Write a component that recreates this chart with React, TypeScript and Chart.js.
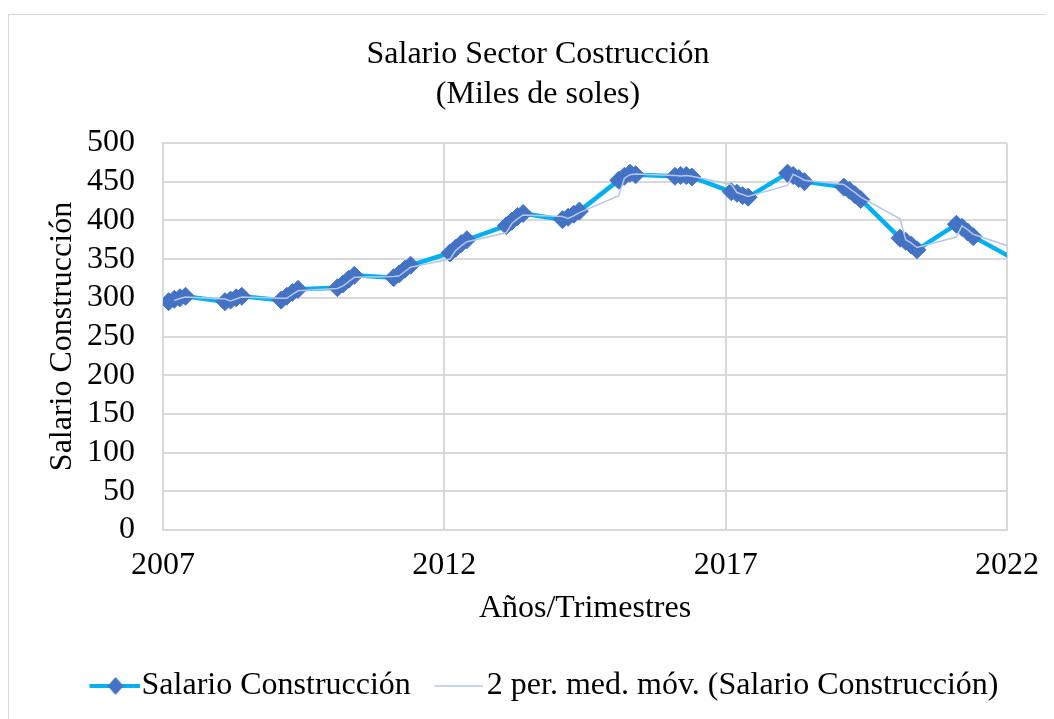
import React, { useEffect, useRef } from 'react';
import { Chart, registerables } from 'chart.js';

Chart.register(...registerables);

const FONT = "'Liberation Serif', 'Times New Roman', serif";

const chartTitle = ['Salario Sector Costrucción', '(Miles de soles)'];
const yAxisTitle = 'Salario Construcción';
const xAxisTitle = 'Años/Trimestres';
const seriesName = 'Salario Construcción';
const trendName = '2 per. med. móv. (Salario Construcción)';

// Año.Trimestre
const periods = [
  2007.1, 2007.2, 2007.3, 2007.4,
  2008.1, 2008.2, 2008.3, 2008.4,
  2009.1, 2009.2, 2009.3, 2009.4,
  2010.1, 2010.2, 2010.3, 2010.4,
  2011.1, 2011.2, 2011.3, 2011.4,
  2012.1, 2012.2, 2012.3, 2012.4,
  2013.1, 2013.2, 2013.3, 2013.4,
  2014.1, 2014.2, 2014.3, 2014.4,
  2015.1, 2015.2, 2015.3, 2015.4,
  2016.1, 2016.2, 2016.3, 2016.4,
  2017.1, 2017.2, 2017.3, 2017.4,
  2018.1, 2018.2, 2018.3, 2018.4,
  2019.1, 2019.2, 2019.3, 2019.4,
  2020.1, 2020.2, 2020.3, 2020.4,
  2021.1, 2021.2, 2021.3, 2021.4,
  2022.1,
];

const salario = [
  295, 298, 300, 302,
  295, 297, 300, 302,
  297, 302, 307, 311,
  313, 318, 324, 329,
  326, 331, 337, 342,
  358, 364, 370, 375,
  393, 399, 405, 409,
  401, 404, 408, 412,
  452, 457, 461, 459,
  457, 458, 458, 456,
  437, 435, 432, 430,
  461, 458, 454, 450,
  443, 439, 433, 427,
  377, 373, 368, 362,
  395, 391, 385, 379,
  351,
];

const xTickLabels = [2007, 2012, 2017, 2022];
const yTickLabels = [0, 50, 100, 150, 200, 250, 300, 350, 400, 450, 500];

const CANVAS_W = 1058;
const CANVAS_H = 697;

function makeLegendImage(
  width: number,
  lineFrom: number,
  lineTo: number,
  lineColor: string,
  lineWidth: number,
  diamondAt: number | null
): HTMLCanvasElement {
  const c = document.createElement('canvas');
  c.width = width;
  c.height = 22;
  const g = c.getContext('2d')!;
  g.strokeStyle = lineColor;
  g.lineWidth = lineWidth;
  g.beginPath();
  g.moveTo(lineFrom, 11);
  g.lineTo(lineTo, 11);
  g.stroke();
  if (diamondAt !== null) {
    g.fillStyle = '#4472c4';
    g.beginPath();
    g.moveTo(diamondAt, 2);
    g.lineTo(diamondAt + 8, 11);
    g.lineTo(diamondAt, 20);
    g.lineTo(diamondAt - 8, 11);
    g.closePath();
    g.fill();
  }
  return c;
}

export default function App() {
  const ref = useRef<HTMLCanvasElement | null>(null);

  useEffect(() => {
    document.body.style.overflow = 'hidden';
    const canvas = ref.current;
    if (!canvas) return;

    const mainPoints = periods.map((p, i) => ({ x: p, y: salario[i] }));
    const trendPoints = periods.slice(1).map((p, i) => ({
      x: p,
      y: (salario[i] + salario[i + 1]) / 2,
    }));

    const img1 = makeLegendImage(76, 26, 76, '#00b0f0', 4, 52);
    const img2 = makeLegendImage(73, 24, 73, '#b4c7e7', 1.5, null);

    const chart = new Chart(canvas, {
      type: 'line',
      data: {
        datasets: [
          {
            label: seriesName,
            data: mainPoints,
            borderColor: '#00b0f0',
            borderWidth: 4.5,
            backgroundColor: '#4472c4',
            pointStyle: 'rectRot',
            pointRadius: (ctx: any) => (ctx.raw && ctx.raw.x > 2022 ? 0 : 9),
            pointBackgroundColor: '#4472c4',
            pointBorderColor: '#4472c4',
            pointBorderWidth: 1,
            tension: 0,
            order: 1,
          },
          {
            label: trendName,
            data: trendPoints,
            borderColor: '#b4c7e7',
            borderWidth: 1.5,
            pointRadius: 0,
            tension: 0,
            order: 0,
          },
        ],
      },
      options: {
        animation: false,
        responsive: false,
        events: [],
        layout: { padding: 0 },
        plugins: {
          title: {
            display: true,
            text: chartTitle,
            color: '#000',
            font: { family: FONT, size: 32, weight: 'normal', lineHeight: '40px' },
            padding: { top: 20, bottom: 28 },
          },
          legend: {
            display: true,
            position: 'bottom',
            labels: {
              usePointStyle: true,
              pointStyleWidth: 48,
              padding: 12,
              color: '#000',
              font: { family: FONT, size: 32 },
              generateLabels: () => [
                {
                  text: seriesName,
                  pointStyle: img1 as any,
                  fillStyle: 'transparent',
                  strokeStyle: 'transparent',
                  lineWidth: 0,
                  hidden: false,
                  datasetIndex: 0,
                },
                {
                  text: trendName,
                  pointStyle: img2 as any,
                  fillStyle: 'transparent',
                  strokeStyle: 'transparent',
                  lineWidth: 0,
                  hidden: false,
                  datasetIndex: 1,
                },
              ],
            },
          },
          tooltip: { enabled: false },
        },
        scales: {
          x: {
            type: 'linear',
            min: xTickLabels[0],
            max: xTickLabels[xTickLabels.length - 1],
            afterBuildTicks: (scale: any) => {
              scale.ticks = xTickLabels.map((v) => ({ value: v }));
            },
            afterFit: (scale: any) => {
              scale.height = 128;
              scale.paddingRight = 60;
            },
            ticks: {
              color: '#000',
              font: { family: FONT, size: 32 },
              padding: 16,
              maxRotation: 0,
              autoSkip: false,
              callback: (v: any) => String(v),
            },
            grid: { color: '#d9d9d9', lineWidth: 2, drawTicks: false },
            border: { color: '#d9d9d9', width: 2 },
            title: {
              display: true,
              text: xAxisTitle,
              color: '#000',
              font: { family: FONT, size: 32 },
              padding: { top: 0, bottom: 30 },
            },
          },
          y: {
            type: 'linear',
            min: yTickLabels[0],
            max: yTickLabels[yTickLabels.length - 1],
            afterBuildTicks: (scale: any) => {
              scale.ticks = yTickLabels.map((v) => ({ value: v }));
            },
            afterFit: (scale: any) => {
              scale.width = 154;
            },
            ticks: {
              color: '#000',
              font: { family: FONT, size: 32 },
              padding: 28,
              autoSkip: false,
              callback: (v: any) => String(v),
            },
            grid: { color: '#d9d9d9', lineWidth: 2, drawTicks: false },
            border: { color: '#d9d9d9', width: 2 },
            title: {
              display: true,
              text: yAxisTitle,
              color: '#000',
              font: { family: FONT, size: 32 },
              padding: { top: 34, bottom: 0 },
            },
          },
        },
      } as any,
    });

    return () => chart.destroy();
  }, []);

  return (
    <div
      style={{
        position: 'relative',
        top: 6,
        width: 1100,
        height: 760,
        border: '1px solid #d9d9d9',
        overflow: 'hidden',
        background: '#fff',
      }}
    >
      <canvas
        ref={ref}
        width={CANVAS_W}
        height={CANVAS_H}
        style={{ display: 'block', width: CANVAS_W, height: CANVAS_H }}
      />
    </div>
  );
}
